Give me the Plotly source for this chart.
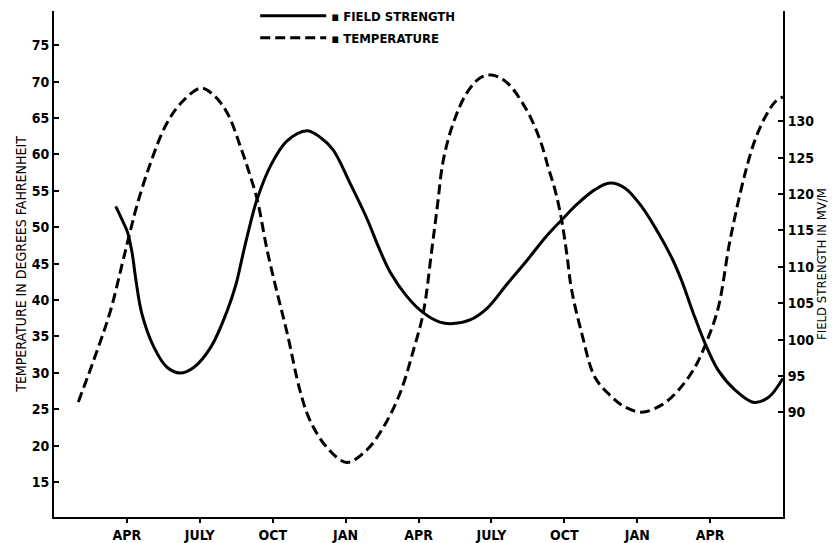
import plotly.graph_objects as go

# ---- data (months counted from January of the first year) ----
temp_month = [1.00, 1.78, 2.33, 2.81, 3.09, 3.43, 3.98, 4.60, 5.21, 6.04, 6.58, 7.13,
              7.68, 8.09, 8.37, 8.78, 9.19, 9.60, 10.12, 10.53, 11.22, 12.05, 12.87,
              13.55, 14.24, 14.79, 15.20, 15.54, 15.78, 16.02, 16.43, 16.98, 17.53,
              18.01, 18.63, 19.45, 20.00, 20.34, 20.62, 20.89, 21.10, 21.30, 21.72,
              22.26, 22.95, 23.50, 24.19, 25.01, 25.69, 26.38, 26.93, 27.34, 27.82,
              28.44, 28.85, 29.26, 29.67, 30.00]
temperature = [26.0, 33.1, 38.6, 45.0, 48.8, 53.2, 58.9, 64.0, 67.0, 69.1, 68.1, 65.7,
               61.0, 56.9, 53.7, 46.7, 40.9, 35.4, 27.6, 23.5, 19.8, 17.7, 19.4,
               22.5, 27.2, 33.1, 38.3, 46.7, 53.0, 59.2, 64.3, 68.4, 70.5,
               70.9, 69.9, 66.1, 62.0, 58.2, 55.1, 51.0, 46.4, 41.4, 35.4,
               29.4, 26.7, 25.3, 24.6, 25.6, 27.6, 30.8, 34.9, 39.0, 48.2,
               57.4, 62.0, 65.1, 67.2, 67.9]

field_month = [2.54, 2.81, 3.02, 3.21, 3.37, 3.62, 4.12, 4.65, 5.19, 5.76, 6.46, 7.12,
               7.49, 7.74, 7.98, 8.35, 8.93, 9.59, 10.41, 10.95, 11.48, 12.18, 12.88,
               13.37, 13.83, 14.53, 15.19, 15.88, 16.42, 17.12, 17.82, 18.64, 19.47,
               20.21, 20.91, 21.56, 22.26, 22.88, 23.50, 24.20, 24.86, 25.47, 25.84,
               26.30, 26.79, 27.33, 28.02, 28.77, 29.38, 30.00]
field_strength = [118.3, 116.4, 114.8, 112.0, 108.2, 103.5, 98.9, 96.2, 95.4, 96.2, 99.0, 103.9,
                  107.6, 111.2, 114.6, 119.2, 124.0, 127.3, 128.7, 127.8, 126.1, 121.5, 116.6,
                  112.6, 109.3, 105.9, 103.7, 102.4, 102.2, 102.7, 104.3, 107.6, 110.9,
                  114.0, 116.5, 118.7, 120.6, 121.5, 120.8, 118.2, 114.7, 110.9, 108.0,
                  103.7, 99.5, 95.8, 93.1, 91.4, 92.0, 94.7]

month_ticks = [3, 6, 9, 12, 15, 18, 21, 24, 27]
month_labels = ["APR", "JULY", "OCT", "JAN", "APR", "JULY", "OCT", "JAN", "APR"]
temp_ticks = [15, 20, 25, 30, 35, 40, 45, 50, 55, 60, 65, 70, 75]
field_ticks = [90, 95, 100, 105, 110, 115, 120, 125, 130]

FONT = "Liberation Sans Narrow, DejaVu Sans Condensed, Arial Narrow, sans-serif"

fig = go.Figure()
fig.add_trace(go.Scatter(
    x=field_month, y=field_strength, yaxis="y2", mode="lines",
    name="▪ FIELD STRENGTH", legendgroup="a",
    line=dict(color="black", width=3, shape="spline", smoothing=1.0)))
fig.add_trace(go.Scatter(
    x=temp_month, y=temperature, mode="lines",
    name="▪ TEMPERATURE", legendgroup="b",
    line=dict(color="black", width=3, dash="10px,5px", shape="spline", smoothing=1.0)))

# the page body adds an 8px offset, so the figure is 8px smaller than the window
fig.update_layout(
    width=829, height=535,
    margin=dict(l=46, r=54, t=3, b=26, autoexpand=False),
    paper_bgcolor="white", plot_bgcolor="white",
    font=dict(family=FONT, color="black", size=13),
    showlegend=True,
    legend=dict(x=0.276, y=1.02, xanchor="left", yanchor="top",
                bgcolor="rgba(0,0,0,0)", tracegroupgap=2,
                font=dict(family=FONT, size=13, color="black", weight="bold"),
                itemwidth=66),
    xaxis=dict(range=[0, 30], tickvals=month_ticks, ticktext=month_labels,
               showline=True, linecolor="black", linewidth=2,
               ticks="outside", ticklen=4, tickwidth=1.5, tickcolor="black",
               showgrid=False, zeroline=False,
               tickfont=dict(family=FONT, size=14, weight="bold")),
    yaxis=dict(range=[10.2, 79.7], tickvals=temp_ticks,
               showline=True, linecolor="black", linewidth=2,
               ticks="inside", ticklen=5, tickwidth=1.5, tickcolor="black",
               showgrid=False, zeroline=False,
               tickfont=dict(family=FONT, size=14, weight="bold"),
               title=dict(text="TEMPERATURE IN DEGREES FAHRENHEIT",
                          font=dict(family=FONT, size=14), standoff=2)),
    yaxis2=dict(range=[75.63, 145.14], tickvals=field_ticks, overlaying="y", side="right",
                showline=True, linecolor="black", linewidth=2,
                ticks="inside", ticklen=5, tickwidth=1.5, tickcolor="black",
                showgrid=False, zeroline=False,
                tickfont=dict(family=FONT, size=14, weight="bold"),
                title=dict(text="FIELD STRENGTH IN MV/M",
                           font=dict(family=FONT, size=13), standoff=0)),
)

fig.write_html("out.html")
